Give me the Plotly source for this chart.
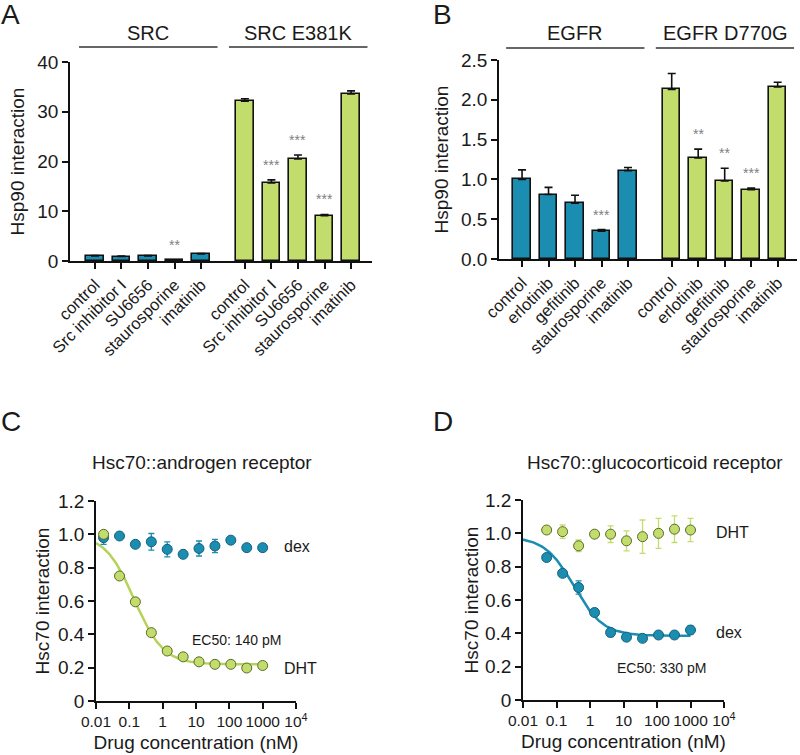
import numpy as np
import plotly.graph_objects as go

# ---------------- DATA ----------------
# Panel A (SRC)
drugs_A = ["control", "Src inhibitor I", "SU6656", "staurosporine", "imatinib"]
src_wt = [1.0, 0.9, 1.0, 0.2, 1.4]
src_wt_err = [0.1, 0.08, 0.1, 0.05, 0.1]
src_mut = [32.1, 15.7, 20.5, 9.1, 33.6]
src_mut_err = [0.5, 0.6, 0.8, 0.25, 0.6]
sig_A_wt = ["", "", "", "**", ""]
sig_A_mut = ["", "***", "***", "***", ""]
groups_A = ["SRC", "SRC E381K"]

# Panel B (EGFR)
drugs_B = ["control", "erlotinib", "gefitinib", "staurosporine", "imatinib"]
egfr_wt = [1.0, 0.81, 0.70, 0.35, 1.11]
egfr_wt_err = [0.12, 0.09, 0.10, 0.02, 0.04]
egfr_mut = [2.13, 1.27, 0.98, 0.87, 2.16]
egfr_mut_err = [0.20, 0.11, 0.16, 0.02, 0.06]
sig_B_wt = ["", "", "", "***", ""]
sig_B_mut = ["", "**", "**", "***", ""]
groups_B = ["EGFR", "EGFR D770G"]

# Panel C (Hsc70::androgen receptor)
conc_C = [0.0169, 0.0508, 0.152, 0.457, 1.37, 4.12, 12.3, 37.0, 111, 333, 1000]
dex_C = [0.98, 0.99, 0.94, 0.955, 0.91, 0.88, 0.915, 0.93, 0.965, 0.92, 0.92]
dex_C_err = [0.04, 0.0, 0.0, 0.05, 0.045, 0.02, 0.045, 0.04, 0.0, 0.0, 0.0]
dht_C = [1.0, 0.75, 0.595, 0.41, 0.30, 0.265, 0.235, 0.22, 0.22, 0.198, 0.213]
dht_C_err = [0.02, 0.02, 0.0, 0.0, 0.0, 0.0, 0.0, 0.0, 0.0, 0.0, 0.0]
fit_C = dict(top=1.0, bottom=0.22, ec50=0.14, hill=1.0)

# Panel D (Hsc70::glucocorticoid receptor)
conc_D = [0.0508, 0.152, 0.457, 1.37, 4.12, 12.3, 37.0, 111, 333, 1000]
dex_D = [0.855, 0.76, 0.675, 0.525, 0.405, 0.377, 0.37, 0.39, 0.39, 0.42]
dex_D_err = [0.0, 0.0, 0.04, 0.0, 0.025, 0.0, 0.0, 0.0, 0.0, 0.025]
dht_D = [1.02, 1.01, 0.925, 0.995, 0.995, 0.955, 0.98, 1.0, 1.025, 1.02]
dht_D_err = [0.0, 0.04, 0.035, 0.0, 0.05, 0.06, 0.10, 0.09, 0.08, 0.07]
fit_D = dict(top=0.98, bottom=0.385, ec50=0.33, hill=1.0)

x_ticks_log = [0.01, 0.1, 1, 10, 100, 1000, 10000]
x_ticktext_log = ["0.01", "0.1", "1", "10", "100", "1000", "10<sup>4</sup>"]

# ---------------- STYLE ----------------
BLUE = "#1b8db1"
GREEN = "#c3dd6c"
GREEN_LINE = "#b5d35a"
FONT = "Liberation Sans, Arial, Helvetica, sans-serif"
TXT = "#1a1a1a"
group_gap = 0.65
W, H = 800, 755


def px_x(p):
    return p / W


def px_y(p):
    return 1 - p / H


def logistic(x, top, bottom, ec50, hill):
    x = np.asarray(x, dtype=float)
    return bottom + (top - bottom) / (1 + (x / ec50) ** hill)


fig = go.Figure()

n = len(drugs_A)
pos_wt = list(range(n))
pos_mut = [i + n + group_gap for i in range(n)]


def add_bars(pos, vals, errs, color, xa, ya):
    fig.add_trace(go.Bar(
        x=pos, y=vals, width=0.66, xaxis=xa, yaxis=ya,
        marker=dict(color=color, line=dict(color="#111", width=1.6)),
        error_y=dict(type="data", array=errs, arrayminus=[0] * len(errs),
                     symmetric=False, color="#111", thickness=1.6, width=4),
        showlegend=False, hoverinfo="skip"))


add_bars(pos_wt, src_wt, src_wt_err, BLUE, "x", "y")
add_bars(pos_mut, src_mut, src_mut_err, GREEN, "x", "y")
add_bars(pos_wt, egfr_wt, egfr_wt_err, BLUE, "x2", "y2")
add_bars(pos_mut, egfr_mut, egfr_mut_err, GREEN, "x2", "y2")

annotations = []


def add_sig(pos, vals, errs, sigs, xa, ya):
    for p, v, e, s in zip(pos, vals, errs, sigs):
        if s:
            annotations.append(dict(x=p, y=v + e, xref=xa, yref=ya, text=s,
                                    showarrow=False, yanchor="middle", yshift=15,
                                    font=dict(size=14, color="#808080", family=FONT)))


add_sig(pos_wt, src_wt, src_wt_err, sig_A_wt, "x", "y")
add_sig(pos_mut, src_mut, src_mut_err, sig_A_mut, "x", "y")
add_sig(pos_wt, egfr_wt, egfr_wt_err, sig_B_wt, "x2", "y2")
add_sig(pos_mut, egfr_mut, egfr_mut_err, sig_B_mut, "x2", "y2")

shapes = []


def add_group(pos, label, xa, line_y_px, text_y_px):
    shapes.append(dict(type="line", xref=xa, yref="paper",
                       x0=pos[0] - 0.6, x1=pos[-1] + 0.62,
                       y0=px_y(line_y_px), y1=px_y(line_y_px),
                       line=dict(color="#333", width=1.3)))
    annotations.append(dict(x=(pos[0] + pos[-1]) / 2, y=px_y(text_y_px), xref=xa,
                            yref="paper", text=label, showarrow=False,
                            yanchor="middle",
                            font=dict(size=20, color=TXT, family=FONT)))


add_group(pos_wt, groups_A[0], "x", 47, 33)
add_group(pos_mut, groups_A[1], "x", 47, 33)
add_group(pos_wt, groups_B[0], "x2", 48, 33)
add_group(pos_mut, groups_B[1], "x2", 48, 33)

# ------------- dose-response panels -------------


def add_dose(conc, vals, errs, color, edge, xa, ya):
    fig.add_trace(go.Scatter(
        x=conc, y=vals, mode="markers", xaxis=xa, yaxis=ya,
        marker=dict(size=10, color=color, line=dict(color=edge, width=1)),
        error_y=dict(type="data", array=errs, color=color, thickness=1.3, width=3),
        showlegend=False, hoverinfo="skip"))


def add_fit(conc, fit, color, xa, ya):
    xs = np.logspace(-2, np.log10(max(conc)), 200)
    fig.add_trace(go.Scatter(
        x=xs, y=logistic(xs, **fit), mode="lines", xaxis=xa, yaxis=ya,
        line=dict(color=color, width=2.5), showlegend=False, hoverinfo="skip"))


add_fit(conc_C, fit_C, GREEN_LINE, "x3", "y3")
add_dose(conc_C, dex_C, dex_C_err, BLUE, "#15607a", "x3", "y3")
add_dose(conc_C, dht_C, dht_C_err, GREEN, "#5a6b2a", "x3", "y3")

add_fit(conc_D, fit_D, BLUE, "x4", "y4")
add_dose(conc_D, dht_D, dht_D_err, GREEN, "#5a6b2a", "x4", "y4")
add_dose(conc_D, dex_D, dex_D_err, BLUE, "#15607a", "x4", "y4")


def txt(x, y, s, size, color=TXT, xanchor="center"):
    annotations.append(dict(x=px_x(x), y=px_y(y), xref="paper", yref="paper",
                            text=s, showarrow=False, xanchor=xanchor,
                            yanchor="middle", font=dict(size=size, color=color, family=FONT)))


# panel letters
txt(-1, 14, "A", 28, xanchor="left")
txt(431, 14, "B", 28, xanchor="left")
txt(-1, 422, "C", 28, xanchor="left")
txt(431, 422, "D", 28, xanchor="left")
# titles
txt(202, 462, "Hsc70::androgen receptor", 19)
txt(655, 462, "Hsc70::glucocorticoid receptor", 19)
# series labels
txt(282, 546, "dex", 16, xanchor="left")
txt(282, 668, "DHT", 16, xanchor="left")
txt(714, 532, "DHT", 16, xanchor="left")
txt(714, 632, "dex", 16, xanchor="left")
txt(237, 640, "EC50: 140 pM", 14)
txt(662, 668, "EC50: 330 pM", 14)

axis_common = dict(showline=True, linecolor="#111", linewidth=1.6, ticks="outside",
                   ticklen=6, tickwidth=1.6, tickcolor="#111", showgrid=False,
                   zeroline=False, automargin=False,
                   tickfont=dict(size=19, color=TXT, family=FONT))

tick_lab_A = drugs_A + drugs_A
tick_lab_B = drugs_B + drugs_B
bar_tick_font = dict(size=16.5, color=TXT, family=FONT)
log_tick_font = dict(size=15.5, color=TXT, family=FONT)
title_font = dict(size=19, color=TXT, family=FONT)

layout = dict(
    width=W, height=H, margin=dict(l=0, r=0, t=0, b=0, autoexpand=False),
    paper_bgcolor="white", plot_bgcolor="white",
    font=dict(family=FONT, color=TXT),
    bargap=0,
    xaxis=dict(axis_common, domain=[px_x(70), px_x(372)], range=[-0.94, 10.44],
               tickvals=pos_wt + pos_mut, ticktext=tick_lab_A, tickangle=-45,
               tickfont=bar_tick_font, anchor="y"),
    yaxis=dict(axis_common, domain=[px_y(261), px_y(62)], range=[0, 40],
               tickvals=[0, 10, 20, 30, 40], anchor="x",
               title=dict(text="Hsp90 interaction", standoff=8, font=title_font)),
    xaxis2=dict(axis_common, domain=[px_x(499), px_x(797)], range=[-0.87, 10.38],
                tickvals=pos_wt + pos_mut, ticktext=tick_lab_B, tickangle=-45,
                tickfont=bar_tick_font, anchor="y2"),
    yaxis2=dict(axis_common, domain=[px_y(259), px_y(60)], range=[0, 2.5],
                tickvals=[0, 0.5, 1, 1.5, 2, 2.5],
                ticktext=["0.0", "0.5", "1.0", "1.5", "2.0", "2.5"], anchor="x2",
                title=dict(text="Hsp90 interaction", standoff=7, font=title_font)),
    xaxis3=dict(axis_common, domain=[px_x(96), px_x(296)], type="log", range=[-2, 4],
                tickvals=x_ticks_log, ticktext=x_ticktext_log, anchor="y3",
                tickfont=log_tick_font,
                title=dict(text="Drug concentration (nM)", standoff=6, font=title_font)),
    yaxis3=dict(axis_common, domain=[px_y(701), px_y(501)], range=[0, 1.2],
                tickvals=[0, 0.2, 0.4, 0.6, 0.8, 1.0, 1.2],
                ticktext=["0", "0.2", "0.4", "0.6", "0.8", "1.0", "1.2"], anchor="x3",
                title=dict(text="Hsc70 interaction", standoff=3, font=title_font)),
    xaxis4=dict(axis_common, domain=[px_x(523), px_x(724)], type="log", range=[-2, 4],
                tickvals=x_ticks_log, ticktext=x_ticktext_log, anchor="y4",
                tickfont=log_tick_font,
                title=dict(text="Drug concentration (nM)", standoff=6, font=title_font)),
    yaxis4=dict(axis_common, domain=[px_y(700), px_y(500)], range=[0, 1.2],
                tickvals=[0, 0.2, 0.4, 0.6, 0.8, 1.0, 1.2],
                ticktext=["0", "0.2", "0.4", "0.6", "0.8", "1.0", "1.2"], anchor="x4",
                title=dict(text="Hsc70 interaction", standoff=1, font=title_font)),
    annotations=annotations,
    shapes=shapes,
)
fig.update_layout(**layout)
fig.write_html(
    "out.html",
    config={"displayModeBar": False},
    post_script="document.body.style.margin='0px';document.body.style.overflow='hidden';",
)
